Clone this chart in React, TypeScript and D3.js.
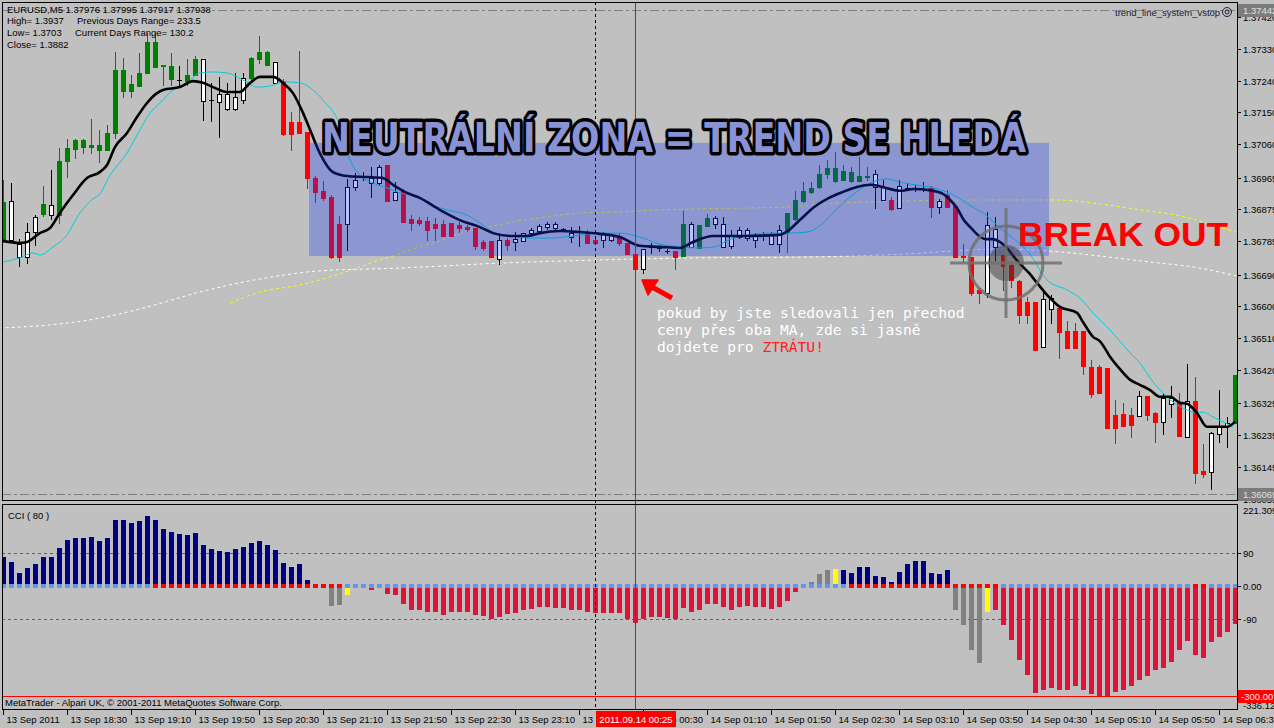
import React from "react";
import * as d3 from "d3";

// ---------------- DATA ----------------
const timeLabels = [
  "13 Sep 2011", "13 Sep 18:30", "13 Sep 19:10", "13 Sep 19:50", "13 Sep 20:30",
  "13 Sep 21:10", "13 Sep 21:50", "13 Sep 22:30", "13 Sep 23:10", "13 Sep 23:50",
  "14 Sep 00:30", "14 Sep 01:10", "14 Sep 01:50", "14 Sep 02:30", "14 Sep 03:10",
  "14 Sep 03:50", "14 Sep 04:30", "14 Sep 05:10", "14 Sep 05:50", "14 Sep 06:30",
];
const timeLabelBars = [0, 8, 16, 24, 32, 40, 48, 56, 64, 72, 80, 88, 96, 104, 112, 120, 128, 136, 144, 152];

const priceTicks = [1.3742, 1.3733, 1.3724, 1.3715, 1.3706, 1.36965, 1.36875, 1.36785, 1.3669, 1.366, 1.3651, 1.3642, 1.36325, 1.36235, 1.36145, 1.36055];
const priceTickLabels = ["1.37420", "1.37330", "1.37240", "1.37150", "1.37060", "1.36965", "1.36875", "1.36785", "1.36690", "1.36600", "1.36510", "1.36420", "1.36325", "1.36235", "1.36145", "1.36055"];
const dayHigh = 1.37442;
const dayLow = 1.36069;

const opens = [
  1.36789, 1.36899, 1.36777, 1.36811, 1.36854, 1.36862, 1.36888, 1.36859, 1.37013, 1.37047,
  1.37052, 1.37052, 1.37044, 1.37044, 1.37092, 1.37211, 1.37211, 1.37225, 1.37262, 1.37279,
  1.37282, 1.37245, 1.37242, 1.37239, 1.37256, 1.37302, 1.37185, 1.37203, 1.37203, 1.37194,
  1.37248, 1.37248, 1.37302, 1.37285, 1.37293, 1.37239, 1.37123, 1.37123, 1.37095, 1.36964,
  1.36928, 1.3691, 1.36834, 1.36939, 1.36959, 1.3697, 1.36964, 1.36996, 1.37001, 1.36925,
  1.36928, 1.36848, 1.36845, 1.36842, 1.36834, 1.36834, 1.36837, 1.36831, 1.36825, 1.36823,
  1.36783, 1.36786, 1.36789, 1.36789, 1.36791, 1.36808, 1.36817, 1.36828, 1.36834, 1.36834,
  1.3682, 1.36808, 1.36814, 1.36811, 1.36789, 1.36806, 1.36803, 1.36794, 1.3678, 1.36749,
  1.36763, 1.36769, 1.36766, 1.36757, 1.36757, 1.36743, 1.36834, 1.36766, 1.36828, 1.36851,
  1.36834, 1.36803, 1.36817, 1.36817, 1.36803, 1.368, 1.36803, 1.36817, 1.36811, 1.36848,
  1.36899, 1.36925, 1.36939, 1.36976, 1.36956, 1.36959, 1.36956, 1.36956, 1.36967, 1.36976,
  1.36939, 1.36902, 1.36942, 1.36936, 1.36933, 1.36933, 1.36936, 1.36899, 1.36916, 1.36885,
  1.36743, 1.3674, 1.36647, 1.36831, 1.3682, 1.36746, 1.36718, 1.36672, 1.36613, 1.36613,
  1.36621, 1.36624, 1.36596, 1.36531, 1.36531, 1.36531, 1.36429, 1.36429, 1.36426, 1.36293,
  1.36295, 1.36293, 1.36346, 1.36346, 1.36298, 1.36341, 1.36341, 1.36327, 1.36332, 1.36332,
  1.36134, 1.36241, 1.36261, 1.3627, 1.3627,
];
const highs = [
  1.36959, 1.3695, 1.36791, 1.36837, 1.36859, 1.36942, 1.36987, 1.37049, 1.37075, 1.37075,
  1.37075, 1.37132, 1.371, 1.37115, 1.37322, 1.37305, 1.37256, 1.37319, 1.37375, 1.37375,
  1.37285, 1.37319, 1.37282, 1.37302, 1.3731, 1.37302, 1.37234, 1.37251, 1.37234, 1.37262,
  1.37262, 1.37307, 1.37367, 1.37324, 1.37293, 1.37245, 1.37151, 1.37324, 1.37095, 1.3697,
  1.36956, 1.36916, 1.36857, 1.36962, 1.36979, 1.36981, 1.36996, 1.37001, 1.37001, 1.36953,
  1.36933, 1.36859, 1.36854, 1.36854, 1.36851, 1.36845, 1.36837, 1.3684, 1.36831, 1.36823,
  1.36789, 1.36786, 1.36808, 1.36794, 1.36811, 1.36808, 1.36823, 1.36834, 1.3684, 1.3684,
  1.36823, 1.36825, 1.36828, 1.36817, 1.36794, 1.36811, 1.36808, 1.36808, 1.3678, 1.36749,
  1.36763, 1.3678, 1.36772, 1.36763, 1.36757, 1.36871, 1.3684, 1.36831, 1.36862, 1.36857,
  1.36854, 1.36817, 1.36825, 1.36823, 1.36808, 1.36811, 1.36811, 1.36831, 1.36865, 1.36928,
  1.36953, 1.36953, 1.37001, 1.37015, 1.37038, 1.37001, 1.36996, 1.37024, 1.36996, 1.36987,
  1.36959, 1.3691, 1.36959, 1.3695, 1.36945, 1.36953, 1.36942, 1.36905, 1.3693, 1.36885,
  1.36777, 1.3674, 1.36653, 1.36868, 1.36854, 1.36746, 1.36726, 1.36675, 1.36627, 1.36613,
  1.36641, 1.36633, 1.36596, 1.36559, 1.36553, 1.36531, 1.36448, 1.36434, 1.36426, 1.36335,
  1.36327, 1.36312, 1.3636, 1.36346, 1.36301, 1.36355, 1.36375, 1.36355, 1.36437, 1.364,
  1.3621, 1.36244, 1.36363, 1.36287, 1.36406,
];
const lows = [
  1.36783, 1.36789, 1.36715, 1.36723, 1.36774, 1.36857, 1.36848, 1.36837, 1.36967, 1.37021,
  1.37035, 1.37035, 1.3701, 1.37044, 1.37078, 1.37194, 1.37194, 1.37225, 1.37262, 1.37279,
  1.37228, 1.37228, 1.37228, 1.37228, 1.37256, 1.37129, 1.37126, 1.37081, 1.37157, 1.37157,
  1.37177, 1.37239, 1.3729, 1.37285, 1.37234, 1.37086, 1.37044, 1.37092, 1.36936, 1.36896,
  1.36902, 1.36738, 1.36729, 1.3676, 1.3693, 1.36959, 1.3691, 1.36945, 1.36899, 1.36902,
  1.3684, 1.36817, 1.36831, 1.36789, 1.36789, 1.368, 1.368, 1.36811, 1.36814, 1.36763,
  1.3676, 1.3674, 1.36721, 1.3676, 1.3676, 1.36786, 1.36803, 1.36808, 1.3682, 1.36817,
  1.36817, 1.36783, 1.36772, 1.3678, 1.36777, 1.36769, 1.36786, 1.36774, 1.36749, 1.36704,
  1.36695, 1.36752, 1.36757, 1.36752, 1.36706, 1.36743, 1.36769, 1.36766, 1.36828, 1.36823,
  1.36769, 1.36766, 1.36794, 1.36789, 1.36769, 1.36789, 1.36777, 1.36755, 1.36755, 1.36845,
  1.36896, 1.36922, 1.36936, 1.36964, 1.36953, 1.36959, 1.36953, 1.36956, 1.36959, 1.36879,
  1.36902, 1.36874, 1.36879, 1.3693, 1.36928, 1.36928, 1.36854, 1.36865, 1.36882, 1.3674,
  1.36726, 1.36633, 1.3661, 1.36627, 1.36732, 1.36647, 1.36655, 1.36553, 1.36553, 1.36477,
  1.36485, 1.36553, 1.36454, 1.36482, 1.36482, 1.36409, 1.36344, 1.36355, 1.36256, 1.36213,
  1.36261, 1.3623, 1.3629, 1.36278, 1.36216, 1.36239, 1.36287, 1.36233, 1.3623, 1.361,
  1.36117, 1.36083, 1.36216, 1.36202, 1.3627,
];
const closes = [
  1.36896, 1.36789, 1.3674, 1.3674, 1.36811, 1.36891, 1.36859, 1.37013, 1.37049, 1.37072,
  1.37072, 1.37058, 1.37058, 1.37092, 1.37271, 1.37271, 1.37231, 1.37262, 1.3735, 1.3735,
  1.37285, 1.37282, 1.37242, 1.37256, 1.37302, 1.37183, 1.37185, 1.3718, 1.3716, 1.3716,
  1.37185, 1.37305, 1.37322, 1.37322, 1.37234, 1.37089, 1.37089, 1.37092, 1.36964, 1.36925,
  1.36908, 1.3674, 1.3674, 1.36834, 1.36939, 1.3697, 1.3695, 1.3695, 1.36899, 1.36902,
  1.3684, 1.36837, 1.36837, 1.36817, 1.36823, 1.368, 1.368, 1.36823, 1.3682, 1.36772,
  1.36766, 1.3674, 1.36735, 1.36774, 1.36783, 1.36786, 1.36808, 1.36814, 1.36825, 1.36823,
  1.3682, 1.36797, 1.36814, 1.3678, 1.3678, 1.36789, 1.36789, 1.3678, 1.36749, 1.36706,
  1.36706, 1.36769, 1.36766, 1.36757, 1.3674, 1.36834, 1.36769, 1.36831, 1.36851, 1.36834,
  1.36769, 1.36772, 1.36797, 1.36794, 1.36789, 1.368, 1.36777, 1.36777, 1.36865, 1.36902,
  1.36928, 1.36936, 1.36976, 1.36993, 1.36993, 1.36984, 1.36981, 1.3697, 1.3697, 1.36939,
  1.36902, 1.36876, 1.36879, 1.36936, 1.36933, 1.36933, 1.36882, 1.36882, 1.36882, 1.3674,
  1.3674, 1.36638, 1.36638, 1.36638, 1.36769, 1.36715, 1.36675, 1.36576, 1.36576, 1.36477,
  1.36485, 1.36593, 1.36528, 1.36482, 1.36482, 1.36431, 1.36352, 1.36355, 1.36256, 1.36256,
  1.36261, 1.36264, 1.3629, 1.36293, 1.36273, 1.36273, 1.36324, 1.36233, 1.3623, 1.36128,
  1.36125, 1.36131, 1.36239, 1.36261, 1.36406,
];
// candle colour assigned by the trend indicator: g = green, w = white, r = red
const candleColors =
  "gwwwwgwggg" + "gggggggggg" + "ggwggwwwww" + "wgggwrrrrr" + "rrrwwwwwrw" +
  "rrrrrrrrrr" + "rrwrwwwwww" + "wwwrrwwrrr" + "wwwwrgwggw" + "wwwwwwwwgg" +
  "gggggggggw" + "wrwwwwrwrr" + "rrrwwrrrrr" + "wwrrrrrrrr" + "rrwrrwwrwr" + "rwwwg";

// moving averages: [bar index, price]
const maFast: [number, number][] = [
  [0, 1.36786], [2.1, 1.3678], [3, 1.36783], [4.6, 1.36808], [5.9, 1.36823], [7.1, 1.36865], [8.75, 1.36916],
  [10.5, 1.36964], [12.1, 1.36981], [13, 1.37001], [14, 1.37052], [15.5, 1.37092], [16.75, 1.37137], [18, 1.37177],
  [19.25, 1.37205], [20, 1.37214], [22.1, 1.37222], [23.75, 1.37239], [25, 1.37234], [26.25, 1.37222], [28, 1.37208],
  [29.6, 1.37208], [30.9, 1.37234], [32.1, 1.37251], [33.75, 1.37251], [35, 1.37234], [36.25, 1.37205], [37.5, 1.37149],
  [38.4, 1.371], [39.6, 1.37035], [41.25, 1.36981], [43, 1.3697], [45.5, 1.36967], [47.5, 1.36964], [48.75, 1.36945],
  [50.5, 1.36922], [52.1, 1.36908], [54.6, 1.36874], [57.1, 1.36845], [59.6, 1.36825], [61.25, 1.36808], [63.4, 1.368],
  [65.5, 1.368], [67.1, 1.36808], [69.6, 1.36814], [72.1, 1.36811], [74.6, 1.36806], [77.1, 1.36797], [79.6, 1.36772],
  [82.1, 1.36769], [84.6, 1.36766], [86.25, 1.36783], [88.75, 1.368], [92.5, 1.368], [97, 1.36803], [97.9, 1.36811],
  [99.6, 1.36845], [101.4, 1.36882], [103.25, 1.36908], [105, 1.36925], [106.75, 1.36939], [108.5, 1.36945],
  [110.4, 1.36936], [112.1, 1.36928], [113.9, 1.36933], [115.75, 1.3693], [117.5, 1.36919], [118.4, 1.36902],
  [119.25, 1.36879], [120.1, 1.36845], [121, 1.36823], [122, 1.368], [122.9, 1.36791], [123.75, 1.36791],
  [124.6, 1.36783], [125.5, 1.36766], [126.4, 1.3674], [127.25, 1.36718], [128.25, 1.36695], [129.25, 1.36667],
  [130.5, 1.36633], [132.1, 1.36599], [134.25, 1.36582], [135, 1.36556], [136.25, 1.36514], [137.1, 1.36502],
  [138.4, 1.36457], [139.6, 1.36423], [140.9, 1.36392], [142.1, 1.36378], [143.4, 1.36363], [144.6, 1.36344],
  [145.9, 1.36344], [147.1, 1.36327], [148, 1.36324], [149.25, 1.36298], [150.5, 1.36259], [151.75, 1.36259],
  [153, 1.36259], [154, 1.36273],
];
const maSlow: [number, number][] = [
  [0, 1.36726], [2.1, 1.36738], [3.75, 1.36752], [4.6, 1.36746], [6.25, 1.36769], [8, 1.36803], [9.6, 1.36865],
  [11.25, 1.36905], [12.1, 1.36919], [13.4, 1.36973], [15.5, 1.37035], [17.1, 1.371], [18.4, 1.37149], [19.6, 1.37177],
  [21.25, 1.37214], [23, 1.37234], [24.6, 1.37262], [25.9, 1.37265], [28, 1.37262], [30, 1.37242], [31.75, 1.37222],
  [33.4, 1.37225], [35, 1.37237], [37.1, 1.37234], [38.4, 1.3722], [40, 1.37185], [42.1, 1.37115], [43.4, 1.37015],
  [44.6, 1.36973], [46.25, 1.3695], [48.4, 1.36933], [49.6, 1.36922], [51.25, 1.36916], [53, 1.36893], [55.5, 1.36874],
  [58, 1.36859], [59.6, 1.36837], [61.25, 1.36811], [63.4, 1.368], [65.9, 1.36794], [68.4, 1.36794], [71.25, 1.368],
  [74.6, 1.36808], [77.1, 1.36808], [79.6, 1.36797], [82.1, 1.36777], [84.6, 1.36769], [87.1, 1.36766], [88.9, 1.36769],
  [90.75, 1.36789], [93.4, 1.36803], [96, 1.36808], [97.9, 1.36808], [100.5, 1.36811], [102.25, 1.36831],
  [104.1, 1.36874], [105.9, 1.36911], [107.6, 1.36939], [110.4, 1.36962], [112.1, 1.36953], [113.9, 1.36945],
  [115.75, 1.36939], [117.5, 1.36928], [119.25, 1.36911], [121, 1.36885], [122.9, 1.36859], [124.6, 1.36823],
  [126.4, 1.36791], [128.25, 1.36752], [130.5, 1.36675], [133, 1.36647], [134.6, 1.36624], [136.25, 1.36582],
  [138.4, 1.36533], [139.25, 1.36511], [140.9, 1.36468], [142.1, 1.3644], [143.75, 1.36386], [145, 1.36355],
  [146.25, 1.36329], [148, 1.36307], [149.25, 1.36298], [150, 1.36301], [151.25, 1.36287], [152.5, 1.36273],
  [153.75, 1.36259],
];
const maLongWhite: [number, number][] = [
  [-0.4, 1.36539], [5.9, 1.36548], [12.1, 1.36567], [18.4, 1.36601], [24.6, 1.36641], [32.1, 1.36678],
  [39.6, 1.36701], [49.6, 1.36709], [62.1, 1.36723], [74.6, 1.36732], [87.1, 1.36738], [99.6, 1.3674],
  [112.1, 1.36748], [124.6, 1.36763], [130.9, 1.36757], [137.1, 1.36743], [143.4, 1.36726], [149.6, 1.36709],
  [154.1, 1.36687],
];
const maLongYellow: [number, number][] = [
  [28.4, 1.3661], [32.1, 1.36641], [37.1, 1.36661], [40.9, 1.36684], [44.6, 1.36712], [47.1, 1.36732],
  [49.6, 1.36749], [52.1, 1.36769], [54.6, 1.36786], [57.1, 1.36808], [61.25, 1.36828], [63.75, 1.3684],
  [68, 1.36854], [72.1, 1.36865], [77.1, 1.36868], [82.1, 1.36874], [87.1, 1.36877], [97.9, 1.36882],
  [105, 1.36894], [124.6, 1.36902], [131.75, 1.36902], [137.1, 1.36891], [142.1, 1.36874], [147.1, 1.36857],
  [149.6, 1.36842], [154.1, 1.36811],
];

// CCI (80)
const cciValues = [
  79, 65, 35, 49, 60, 79, 79, 104, 125, 131,
  131, 134, 123, 131, 180, 180, 172, 177, 191, 180,
  155, 147, 142, 139, 145, 112, 101, 95, 93, 101,
  106, 117, 123, 112, 98, 63, 52, 60, 16, 2,
  0, -55, -52, -25, 0, 0, -11, 0, -22, -25,
  -49, -65, -65, -71, -71, -79, -71, -71, -71, -79,
  -82, -90, -85, -76, -74, -65, -63, -57, -57, -60,
  -60, -65, -65, -71, -74, -74, -74, -74, -90, -101,
  -90, -85, -85, -87, -90, -60, -71, -65, -49, -49,
  -57, -65, -57, -55, -57, -57, -63, -57, -41, -16,
  0, 11, 33, 44, 46, 44, 35, 52, 52, 27,
  25, 11, 38, 60, 68, 68, 35, 33, 44, -65,
  -106, -175, -210, -71, -65, -106, -147, -202, -243, -292,
  -284, -278, -284, -284, -273, -284, -295, -303, -303, -289,
  -284, -273, -256, -245, -229, -224, -207, -175, -150, -188,
  -196, -153, -139, -125, -104,
];
// n = navy, c = crimson, g = gray, y = yellow
const cciColors =
  "nnnnnnnnnn" + "nnnnnnnnnn" + "nnnnnnnnnn" + "nnnnnnnnnn" + "nggycccccc" +
  "cccccccccc" + "cccccccccc" + "cccccccccc" + "cccccccccc" + "cccccccccc" +
  "cgggynnnnn" + "nnnnnnnnng" + "gggycccccc" + "cccccccccc" + "cccccccccc" + "ccccc";
// zero-line markers: b = blue, r = red
const cciDots =
  "bbbbbbbbbb" + "bbbbbbbbbr" + "rrrrrrrrrr" + "rrrrrrrrrr" + "rrrbbbbbbb" +
  "bbbbbbbbbb" + "bbbbbbbbbb" + "bbbbbbbbbb" + "bbbbbbbbbb" + "bbbbbbbbbb" +
  "bbbbbbrrrr" + "rrrrrrrrrr" + "rrrrrbbbbb" + "bbbbbbbbbb" + "bbbbbbbbbr" + "rbbbb";
const cciLevels = [90, -90];

// neutral zone box
const zoneFrom = 38.25;
const zoneTo = 130.75;
const zoneHigh = 1.37064;
const zoneLow = 1.36743;

// ---------------- LAYOUT ----------------
const W = 1274;
const H = 728;
const L = 2;
const R = 1237;
const MT = 2;
const MB = 501;
const CT = 504;
const CB = 710;

const x = d3.scaleLinear().domain([0, 154]).range([3, 1235]);
const yP = d3.scaleLinear().domain([1.360514, 1.374576]).range([500, 4]);
const yC = d3.scaleLinear().domain([-300, 90]).range([696, 553]);

const FONT = "'Liberation Sans', Arial, sans-serif";

const colMap: Record<string, string> = { g: "#008000", r: "#FF0000", w: "#FFFFFF" };
const cciColMap: Record<string, string> = { n: "#000080", c: "#DC143C", g: "#808080", y: "#FFFF00" };

function Candles() {
  return (
    <g shapeRendering="crispEdges">
      {opens.map((o, i) => {
        const c = closes[i];
        const col = candleColors[i];
        const xc = Math.round(x(i));
        const top = Math.round(yP(Math.max(o, c)));
        const bot = Math.round(yP(Math.min(o, c)));
        const hy = Math.round(yP(highs[i]));
        const ly = Math.round(yP(lows[i]));
        const wickCol = col === "w" ? "#000" : colMap[col];
        const h = bot - top;
        return (
          <g key={i}>
            <line x1={xc + 0.5} x2={xc + 0.5} y1={hy} y2={ly + 1} stroke={wickCol} strokeWidth={1} />
            {h < 1 ? (
              <line x1={xc - 2} x2={xc + 3} y1={top + 0.5} y2={top + 0.5} stroke={wickCol} strokeWidth={1} />
            ) : col === "w" ? (
              <rect x={xc - 1.5} y={top + 0.5} width={4} height={h} fill="#FFFFFF" stroke="#000" strokeWidth={1} />
            ) : (
              <rect x={xc - 2} y={top} width={5} height={h + 1} fill={colMap[col]} />
            )}
          </g>
        );
      })}
    </g>
  );
}

function CCI() {
  const y0 = yC(0);
  return (
    <g>
      {cciValues.map((v, i) => {
        if (v === 0) return null;
        const xc = Math.round(x(i));
        const yv = yC(v);
        return (
          <rect key={i} x={xc - 2} y={Math.min(y0, yv)} width={5} height={Math.abs(yv - y0)}
            fill={cciColMap[cciColors[i]]} shapeRendering="crispEdges" />
        );
      })}
      {cciValues.map((_, i) => {
        const xc = Math.round(x(i));
        return (
          <rect key={"d" + i} x={xc - 2} y={y0 - 2} width={5} height={4}
            fill={cciDots[i] === "r" ? "#FF0000" : "#6495ED"} shapeRendering="crispEdges" />
        );
      })}
    </g>
  );
}

export default function App() {
  const line = d3.line<[number, number]>().x((d) => x(d[0])).y((d) => yP(d[1])).curve(d3.curveMonotoneX);
  const sepX = Math.round(x(74)) + 0.5;
  const curX = Math.round(x(79)) + 0.5;
  const zx0 = x(zoneFrom);
  const zx1 = x(zoneTo);
  const zy0 = yP(zoneHigh);
  const zy1 = yP(zoneLow);
  const hiY = Math.round(yP(dayHigh)) + 0.5;
  const loY = Math.round(yP(dayLow)) + 0.5;
  const cx = 1006;
  const cy = 263;

  return (
    <svg width={W} height={H} style={{ position: "fixed", left: 0, top: 0, background: "#C0C0C0" }}
      fontFamily={FONT}>
      <rect x={0} y={0} width={W} height={H} fill="#C0C0C0" />

      <defs>
        <clipPath id="mainClip"><rect x={L} y={MT} width={R - L} height={MB - MT} /></clipPath>
        <clipPath id="cciClip"><rect x={L} y={CT} width={R - L} height={CB - CT} /></clipPath>
      </defs>

      {/* ---- main panel ---- */}
      <g clipPath="url(#mainClip)">
        <line x1={L} x2={R} y1={hiY} y2={hiY} stroke="#808080" strokeDasharray="9,3,3,3" />
        <line x1={L} x2={R} y1={loY} y2={loY} stroke="#808080" strokeDasharray="9,3,3,3" />

        <path d={line(maLongWhite) || ""} fill="none" stroke="#FFFFFF" strokeWidth={1} strokeDasharray="3,3" />
        <path d={line(maLongYellow) || ""} fill="none" stroke="#FFFF00" strokeWidth={1} strokeDasharray="3,3" />

        <Candles />

        <path d={line(maSlow) || ""} fill="none" stroke="#00CED8" strokeWidth={1} />
        <path d={line(maFast) || ""} fill="none" stroke="#000000" strokeWidth={2.6} />

        {/* neutral zone */}
        <rect x={zx0} y={zy0} width={zx1 - zx0} height={zy1 - zy0} fill="rgb(20,52,245)" fillOpacity={0.3} />

        {/* break-out target */}
        <circle cx={cx} cy={cy} r={18} fill="#303030" fillOpacity={0.45} />
        <circle cx={cx} cy={cy} r={37} fill="none" stroke="#707070" strokeWidth={3} strokeOpacity={0.85} />
        <line x1={cx} x2={cx} y1={208} y2={318} stroke="#707070" strokeWidth={3} strokeOpacity={0.85} />
        <line x1={950} x2={1062} y1={cy} y2={cy} stroke="#707070" strokeWidth={3} strokeOpacity={0.85} />

        <text x={1115} y={16} fontSize={9.5} fill="#20203A">trend_line_system_vstop</text>
        <circle cx={1227} cy={12} r={4.5} fill="none" stroke="#20203A" strokeWidth={1} />
        <circle cx={1227} cy={12} r={2} fill="none" stroke="#20203A" strokeWidth={1} />

        <text fontSize={9.5} fill="#000">
          <tspan x={7} y={13}>EURUSD,M5  1.37976 1.37995 1.37917 1.37938</tspan>
          <tspan x={7} y={24}>High= 1.3937</tspan>
          <tspan x={77} y={24}>Previous Days Range= 233.5</tspan>
          <tspan x={7} y={36}>Low= 1.3703</tspan>
          <tspan x={75} y={36}>Current Days Range= 130.2</tspan>
          <tspan x={7} y={48}>Close= 1.3882</tspan>
        </text>
      </g>

      {/* ---- CCI panel ---- */}
      <g clipPath="url(#cciClip)">
        {cciLevels.map((lv) => (
          <line key={lv} x1={L} x2={R} y1={Math.round(yC(lv)) + 0.5} y2={Math.round(yC(lv)) + 0.5}
            stroke="#606060" strokeDasharray="3,3" />
        ))}
        <CCI />
        <line x1={L} x2={R} y1={Math.round(yC(-300)) + 0.5} y2={Math.round(yC(-300)) + 0.5} stroke="#FF0000" />
        <text x={8} y={519} fontSize={9.5} fill="#000">CCI  ( 80 )</text>
        <text x={5} y={706} fontSize={9.5} fill="#000">MetaTrader - Alpari UK, © 2001-2011 MetaQuotes Software Corp.</text>
      </g>

      {/* vertical lines across both panels */}
      <line x1={sepX} x2={sepX} y1={MT} y2={CB} stroke="#000" strokeDasharray="3,3" />
      <line x1={curX} x2={curX} y1={MT} y2={CB} stroke="#FF0000" />

      {/* annotations */}
      <text x={322} y={152} fontFamily="'DejaVu Sans', sans-serif" fontWeight="bold" fontSize={40}
        textLength={704} lengthAdjust="spacingAndGlyphs" fill="#8A92D6" stroke="#000" strokeWidth={7}
        strokeLinejoin="round" paintOrder="stroke">NEUTRÁLNÍ ZONA = TREND SE HLEDÁ</text>

      <text x={1018} y={246} fontWeight="bold" fontSize={34} fill="#FF0000" textLength={210}
        lengthAdjust="spacingAndGlyphs">BREAK OUT</text>

      <g fill="#FF0000" stroke="#FF0000">
        <line x1={672} y1={298} x2={652} y2={287} strokeWidth={5} />
        <polygon points="642,280 658,280 648,295" strokeWidth={1.5} strokeLinejoin="round" />
      </g>

      <text fontFamily="'DejaVu Sans Mono', monospace" fontSize={14.6} fill="#FFFFFF">
        <tspan x={657} y={318}>pokud by jste sledovali jen přechod</tspan>
        <tspan x={657} y={335}>ceny přes oba MA, zde si jasně</tspan>
        <tspan x={657} y={352}>dojdete pro <tspan fill="#FF2020">ZTRÁTU!</tspan></tspan>
      </text>

      {/* frames */}
      <rect x={L + 0.5} y={MT + 0.5} width={R - L} height={MB - MT - 1} fill="none" stroke="#000" />
      <rect x={L + 0.5} y={CT + 0.5} width={R - L} height={CB - CT - 1} fill="none" stroke="#000" />

      {/* price axis */}
      <g fontSize={9.5} fill="#000">
        {priceTicks.map((p, i) => {
          const yy = Math.round(yP(p)) + 0.5;
          return (
            <g key={p}>
              <line x1={R} x2={R + 4} y1={yy} y2={yy} stroke="#000" />
              <text x={1243} y={yy + 3.5}>{priceTickLabels[i]}</text>
            </g>
          );
        })}
      </g>
      <rect x={1238} y={hiY - 6.5} width={40} height={13} fill="#7C7C7C" />
      <text x={1243} y={hiY + 3.5} fontSize={9.5} fill="#E0E0E0">1.37442</text>
      <rect x={1238} y={loY - 6.5} width={40} height={13} fill="#7C7C7C" />
      <text x={1243} y={loY + 3.5} fontSize={9.5} fill="#E0E0E0">1.36069</text>

      {/* CCI axis */}
      <g fontSize={9.5} fill="#000">
        <text x={1243} y={514}>221.3099</text>
        {[90, 0, -90].map((v) => {
          const yy = Math.round(yC(v)) + 0.5;
          return (
            <g key={v}>
              <line x1={R} x2={R + 4} y1={yy} y2={yy} stroke="#000" />
              <text x={1243} y={yy + 3.5}>{v === 0 ? "0.00" : String(v)}</text>
            </g>
          );
        })}
        <text x={1243} y={709}>-336.120</text>
      </g>
      <rect x={1238} y={Math.round(yC(-300)) - 6} width={40} height={13} fill="#FF0000" />
      <text x={1241} y={Math.round(yC(-300)) + 4} fontSize={9.5} fill="#FFE0E0">-300.00</text>

      {/* time axis */}
      <g fontSize={9.5} fill="#000">
        {timeLabels.map((t, i) => {
          const xx = Math.round(x(timeLabelBars[i])) + 0.5;
          return (
            <g key={t}>
              <line x1={xx} x2={xx} y1={CB} y2={CB + 5} stroke="#000" />
              <text x={xx + 3} y={723}>{t}</text>
            </g>
          );
        })}
      </g>
      <rect x={596} y={711} width={80} height={16} fill="#FF0000" />
      <text x={636} y={723} fontSize={9.5} fill="#FFFFFF" textAnchor="middle">2011.09.14 00:25</text>
    </svg>
  );
}
